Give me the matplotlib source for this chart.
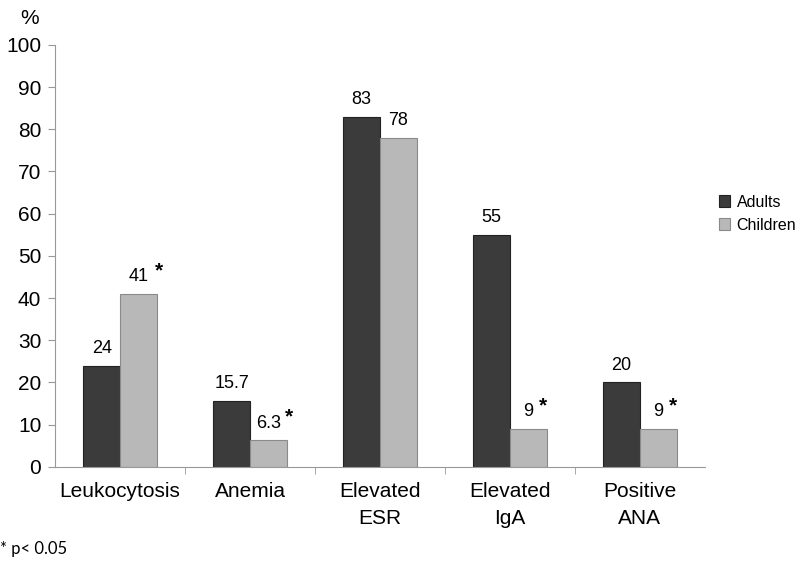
import matplotlib
matplotlib.use("Agg")
from matplotlib import pyplot as plt
import numpy as np

plt.rcParams['font.family'] = ['Liberation Sans', 'DejaVu Sans']

categories = ["Leukocytosis", "Anemia", "Elevated\nESR", "Elevated\nIgA", "Positive\nANA"]
adults = [24, 15.7, 83, 55, 20]
children = [41, 6.3, 78, 9, 9]
adult_labels = ["24", "15.7", "83", "55", "20"]
child_labels = ["41", "6.3", "78", "9", "9"]
significant = [True, True, False, True, True]

fig = plt.figure(figsize=(8, 5.61), dpi=100)
ax = fig.add_axes([0.069, 0.168, 0.812, 0.752])

x = np.arange(len(categories))
w = 0.285
ax.bar(x - w / 2, adults, w, color="#3b3b3b", edgecolor="#222222", linewidth=0.8, label="Adults")
ax.bar(x + w / 2, children, w, color="#b8b8b8", edgecolor="#8a8a8a", linewidth=0.8, label="Children")

for i in range(len(categories)):
    ax.annotate(adult_labels[i], (x[i] - w / 2, adults[i]), xytext=(0, 6), textcoords="offset points",
                ha="center", va="bottom", fontsize=13)
    ax.annotate(child_labels[i], (x[i] + w / 2, children[i]), xytext=(0, 6), textcoords="offset points",
                ha="center", va="bottom", fontsize=13)
    if significant[i]:
        lab = child_labels[i]
        dx = 4 + 3.7 * len(lab.replace(".", "")) + 0.5 * lab.count(".")
        ax.annotate("*", (x[i] + w / 2, children[i]), xytext=(dx, 10), textcoords="offset points",
                    ha="left", va="bottom", fontsize=15, fontweight="bold")

ax.set_xlim(-0.5, len(categories) - 0.5)
ax.set_ylim(0, 100)
ax.set_yticks(np.arange(0, 101, 10))
ax.set_xticks(x)
ax.set_xticklabels(categories, fontsize=15, linespacing=1.5)
ax.set_xticks(np.arange(0.5, len(categories) - 0.5, 1), minor=True)
ax.tick_params(axis="x", which="major", length=0, pad=11)
ax.tick_params(axis="x", which="minor", length=5, color="#999999")
ax.tick_params(axis="y", labelsize=15, length=5, color="#999999", pad=5)

for s in ["top", "right"]:
    ax.spines[s].set_visible(False)
ax.spines["left"].set_color("#999999")
ax.spines["bottom"].set_color("#999999")

fig.text(0.025, 0.957, "%", fontsize=15)
fig.text(0.0, 0.013, "* p< 0.05", fontsize=12, family="Lato")

ax.legend(loc="center left", bbox_to_anchor=(1.0, 0.6), frameon=False, fontsize=11.5,
          handlelength=0.7, handleheight=0.7, handletextpad=0.4, labelspacing=0.5)

fig.savefig("out.png", dpi=100)
